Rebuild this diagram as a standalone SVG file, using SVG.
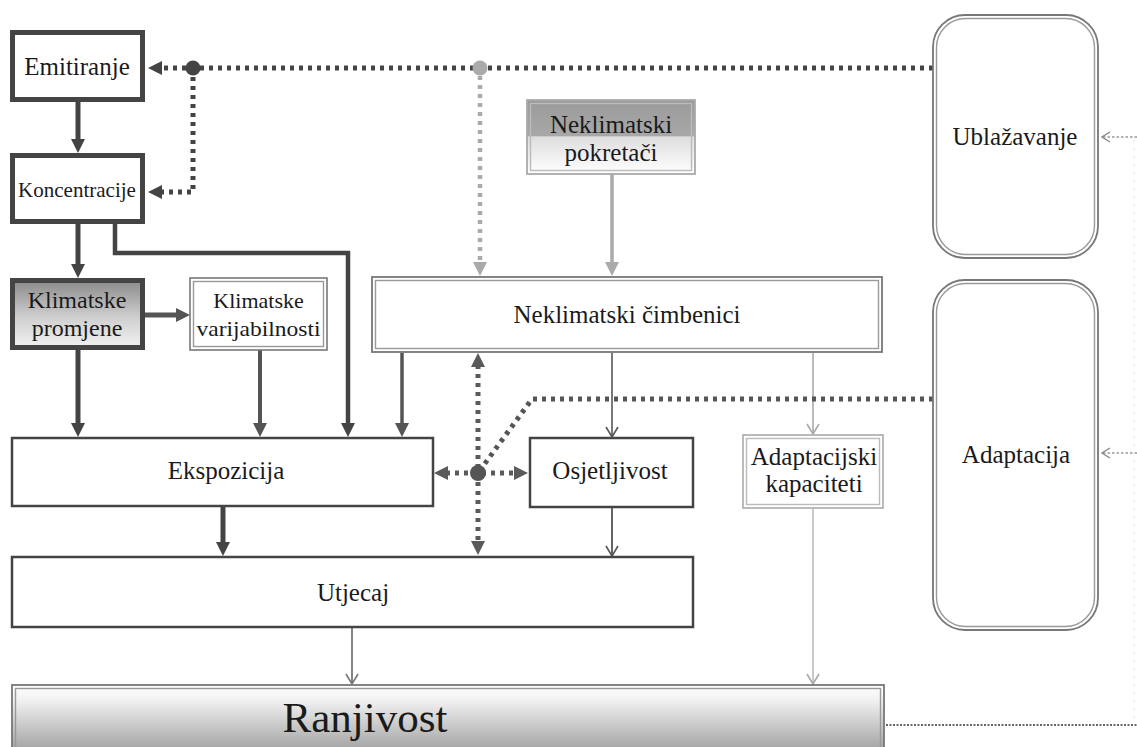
<svg xmlns="http://www.w3.org/2000/svg" width="1137" height="747" viewBox="0 0 1137 747">
<style>
text{font-family:"Liberation Serif","Times New Roman",serif;fill:#1a1a1a;text-anchor:middle}
.thick{fill:#fff;stroke:#444;stroke-width:5}
.single{fill:#fff;stroke:#444;stroke-width:2.5}
.dblI{fill:none;stroke:#999;stroke-width:1.4}
.lgI{fill:none;stroke:#bbb;stroke-width:1.4}
.c{fill:none}
.dot{stroke-dasharray:4 5}
</style>
<defs>
<marker id="mDark" viewBox="0 0 14 14" refX="2" refY="7" markerWidth="14" markerHeight="14" orient="auto-start-reverse" markerUnits="userSpaceOnUse"><path d="M0,0 L14,7 L0,14 z" fill="#444"/></marker>
<marker id="mMed" viewBox="0 0 14 14" refX="2" refY="7" markerWidth="14" markerHeight="14" orient="auto-start-reverse" markerUnits="userSpaceOnUse"><path d="M0,0 L14,7 L0,14 z" fill="#555"/></marker>
<marker id="mDot" viewBox="0 0 14 14" refX="2" refY="7" markerWidth="14" markerHeight="14" orient="auto-start-reverse" markerUnits="userSpaceOnUse"><path d="M0,0 L14,7 L0,14 z" fill="#5a5a5a"/></marker>
<marker id="mLight" viewBox="0 0 14 14" refX="2" refY="7" markerWidth="14" markerHeight="14" orient="auto" markerUnits="userSpaceOnUse"><path d="M0,0 L14,7 L0,14 z" fill="#aaa"/></marker>
<marker id="mOpen" viewBox="0 0 12 14" refX="11" refY="7" markerWidth="12" markerHeight="14" orient="auto" markerUnits="userSpaceOnUse"><path d="M1,1 L11,7 L1,13" fill="none" stroke="#555" stroke-width="1.6"/></marker>
<marker id="mOpenG" viewBox="0 0 12 14" refX="11" refY="7" markerWidth="12" markerHeight="14" orient="auto" markerUnits="userSpaceOnUse"><path d="M1,1 L11,7 L1,13" fill="none" stroke="#777" stroke-width="1.6"/></marker>
<marker id="mOpenL" viewBox="0 0 12 14" refX="11" refY="7" markerWidth="12" markerHeight="14" orient="auto" markerUnits="userSpaceOnUse"><path d="M1,1 L11,7 L1,13" fill="none" stroke="#aaa" stroke-width="1.6"/></marker>
<marker id="mOpenS" viewBox="0 0 10 12" refX="9" refY="6" markerWidth="10" markerHeight="12" orient="auto" markerUnits="userSpaceOnUse"><path d="M1,1 L9,6 L1,11" fill="none" stroke="#888" stroke-width="1.3"/></marker>
<linearGradient id="gKP" x1="0" y1="0" x2="0" y2="1"><stop offset="0" stop-color="#8a8a8a"/><stop offset="0.55" stop-color="#cfcfcf"/><stop offset="1" stop-color="#f2f2f2"/></linearGradient>
<linearGradient id="gNP" x1="0" y1="0" x2="0" y2="1"><stop offset="0" stop-color="#9a9a9a"/><stop offset="0.48" stop-color="#a8a8a8"/><stop offset="0.5" stop-color="#dedede"/><stop offset="1" stop-color="#ffffff"/></linearGradient>
<linearGradient id="gR" x1="0" y1="0" x2="0" y2="1"><stop offset="0" stop-color="#ffffff"/><stop offset="0.2" stop-color="#f2f2f2"/><stop offset="1" stop-color="#989898"/></linearGradient>
</defs>

<g id="connectors">
<line class="c" x1="78" y1="102" x2="78" y2="141" stroke="#444" stroke-width="5" marker-end="url(#mDark)"/>
<line class="c" x1="78" y1="223" x2="78" y2="266" stroke="#444" stroke-width="5" marker-end="url(#mDark)"/>
<path class="c" d="M115,223 V253 H348 V425" stroke="#444" stroke-width="4.5" marker-end="url(#mDark)"/>
<line class="c" x1="145" y1="315" x2="178" y2="315" stroke="#555" stroke-width="5" marker-end="url(#mMed)"/>
<line class="c" x1="78" y1="350" x2="78" y2="425" stroke="#444" stroke-width="5" marker-end="url(#mDark)"/>
<line class="c" x1="260" y1="350" x2="260" y2="425" stroke="#555" stroke-width="4" marker-end="url(#mMed)"/>
<line class="c" x1="402" y1="353" x2="402" y2="425" stroke="#555" stroke-width="3.5" marker-end="url(#mMed)"/>
<line class="c" x1="223" y1="507" x2="223" y2="544" stroke="#444" stroke-width="5" marker-end="url(#mDark)"/>
<line class="c" x1="612" y1="174" x2="612" y2="264" stroke="#aaa" stroke-width="3.5" marker-end="url(#mLight)"/>
<line class="c" x1="352" y1="628" x2="352" y2="684" stroke="#777" stroke-width="1.8" marker-end="url(#mOpenG)"/>
<line class="c" x1="612" y1="508" x2="612" y2="556" stroke="#555" stroke-width="1.8" marker-end="url(#mOpen)"/>
<line class="c" x1="612" y1="353" x2="612" y2="437" stroke="#555" stroke-width="1.6" marker-end="url(#mOpen)"/>
<line class="c" x1="813" y1="353" x2="813" y2="434" stroke="#aaa" stroke-width="1.6" marker-end="url(#mOpenL)"/>
<line class="c" x1="813" y1="509" x2="813" y2="684" stroke="#bbb" stroke-width="1.6" marker-end="url(#mOpenL)"/>
<line class="c dot" x1="933" y1="68" x2="160" y2="68" stroke="#444" stroke-width="5" marker-end="url(#mDark)"/>
<path class="c dot" d="M193,68 V192 H160" stroke="#444" stroke-width="5" marker-end="url(#mDark)"/>
<line class="c dot" x1="480" y1="76" x2="480" y2="264" stroke="#aaa" stroke-width="4.5" marker-end="url(#mLight)"/>
<circle cx="193" cy="68" r="7.5" fill="#444"/>
<circle cx="480" cy="68" r="7.5" fill="#aaa"/>
<path class="c dot" d="M933,399 H532 L478,473" stroke="#555" stroke-width="5"/>
<line class="c dot" x1="478" y1="365" x2="478" y2="543" stroke="#5a5a5a" stroke-width="5" marker-start="url(#mDot)" marker-end="url(#mDot)"/>
<line class="c dot" x1="446" y1="473" x2="516" y2="473" stroke="#5a5a5a" stroke-width="5" marker-start="url(#mDot)" marker-end="url(#mDot)"/>
<circle cx="478" cy="473" r="8" fill="#555"/>
<line class="c" x1="1137" y1="137" x2="1102" y2="137" stroke="#999" stroke-width="1.3" stroke-dasharray="2.5 2" marker-end="url(#mOpenS)"/>
<line class="c" x1="1137" y1="453" x2="1102" y2="453" stroke="#999" stroke-width="1.3" stroke-dasharray="2.5 2" marker-end="url(#mOpenS)"/>
<line class="c" x1="1134" y1="140" x2="1134" y2="722" stroke="#e6e6e6" stroke-width="1.2" stroke-dasharray="2 6"/>
<line class="c" x1="886" y1="725" x2="1137" y2="725" stroke="#666" stroke-width="2" stroke-dasharray="2 1.5"/>
</g>

<g id="emitiranje">
<rect class="thick" x="12.5" y="32.5" width="130" height="67"/>
<text x="77" y="75" font-size="25">Emitiranje</text>
</g>
<g id="koncentracije">
<rect class="thick" x="12.5" y="155.5" width="130" height="66"/>
<text x="77" y="197" font-size="21">Koncentracije</text>
</g>
<g id="klimatske-promjene">
<rect x="12.5" y="280.5" width="130" height="67" fill="url(#gKP)" stroke="#444" stroke-width="5"/>
<text x="77" y="308" font-size="24">Klimatske</text>
<text x="77" y="336" font-size="24">promjene</text>
</g>
<g id="klimatske-varijabilnosti">
<rect x="190" y="278" width="137" height="72" fill="#fff" stroke="#777" stroke-width="1.6"/>
<rect class="dblI" x="193.5" y="281.5" width="130" height="65"/>
<text x="258.5" y="308" font-size="22">Klimatske</text>
<text x="258.5" y="336" font-size="22" textLength="124" lengthAdjust="spacingAndGlyphs">varijabilnosti</text>
</g>
<g id="neklimatski-pokretaci">
<rect x="527" y="100" width="168" height="74" fill="url(#gNP)" stroke="#aaa" stroke-width="1.8"/>
<rect class="lgI" x="530.5" y="103.5" width="161" height="67"/>
<text x="611" y="133" font-size="25">Neklimatski</text>
<text x="611" y="161" font-size="25">pokretači</text>
</g>
<g id="neklimatski-cimbenici">
<rect x="372" y="277" width="510" height="75" fill="#fff" stroke="#777" stroke-width="1.8"/>
<rect class="dblI" x="375.5" y="280.5" width="503" height="68"/>
<text x="627" y="323" font-size="25">Neklimatski čimbenici</text>
</g>
<g id="ekspozicija">
<rect class="single" x="12" y="438" width="421" height="68"/>
<text x="226" y="479" font-size="25">Ekspozicija</text>
</g>
<g id="osjetljivost">
<rect class="single" x="530" y="438" width="163" height="69"/>
<text x="610" y="479" font-size="25">Osjetljivost</text>
</g>
<g id="adaptacijski-kapaciteti">
<rect x="743" y="435" width="140" height="73" fill="#fff" stroke="#aaa" stroke-width="1.6"/>
<rect class="lgI" x="746.5" y="438.5" width="133" height="66"/>
<text x="814" y="465" font-size="25">Adaptacijski</text>
<text x="814" y="492" font-size="25">kapaciteti</text>
</g>
<g id="utjecaj">
<rect class="single" x="12" y="557" width="681" height="70"/>
<text x="353" y="601" font-size="25">Utjecaj</text>
</g>
<g id="ranjivost">
<rect x="12" y="685" width="872" height="72" fill="url(#gR)" stroke="#777" stroke-width="1.8"/>
<rect class="dblI" x="15.5" y="688.5" width="865" height="65"/>
<text x="365" y="732" font-size="43">Ranjivost</text>
</g>
<g id="ublazavanje">
<rect x="933" y="15" width="165" height="243" rx="32" fill="#fff" stroke="#777" stroke-width="1.8"/>
<rect class="dblI" x="936.5" y="18.5" width="158" height="236" rx="29"/>
<text x="1015" y="145" font-size="25">Ublažavanje</text>
</g>
<g id="adaptacija">
<rect x="933" y="280" width="165" height="350" rx="32" fill="#fff" stroke="#777" stroke-width="1.8"/>
<rect class="dblI" x="936.5" y="283.5" width="158" height="343" rx="29"/>
<text x="1016" y="463" font-size="25">Adaptacija</text>
</g>
</svg>
